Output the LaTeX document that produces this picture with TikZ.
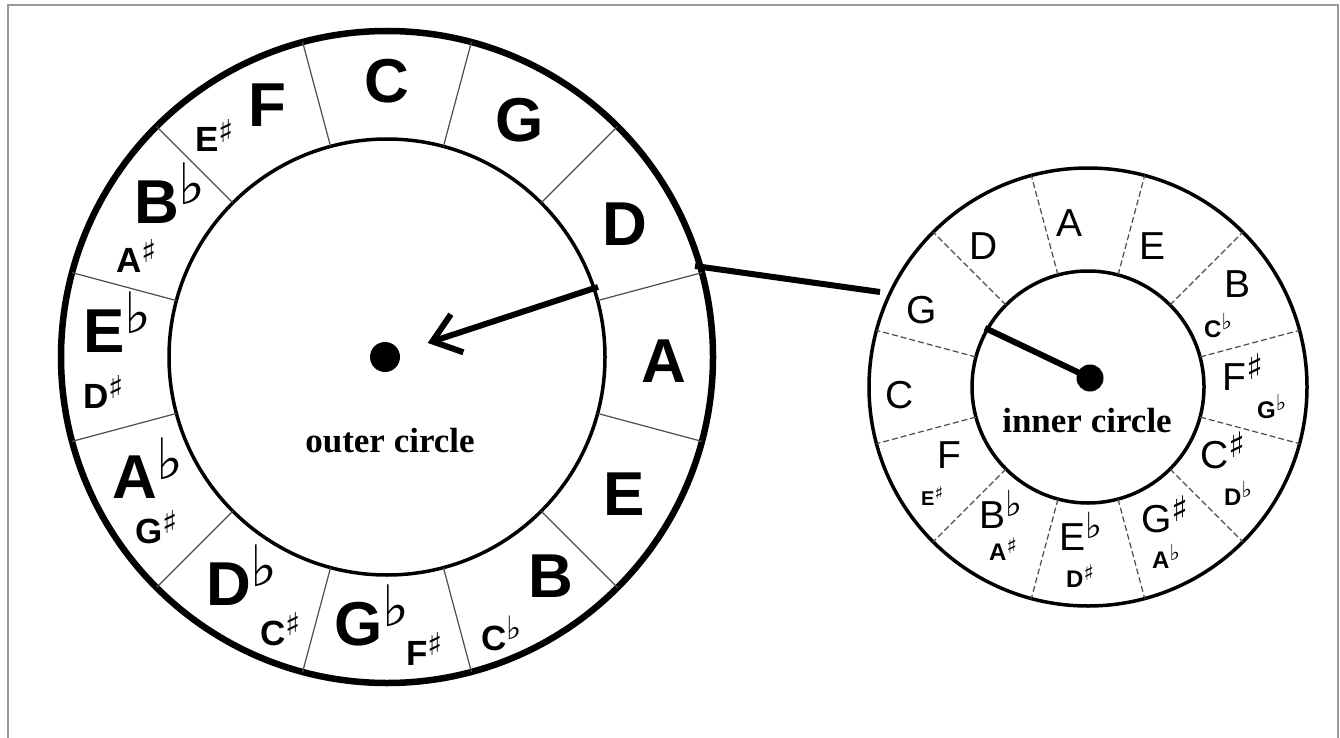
\documentclass[tikz,border=0pt]{standalone}
\usepackage{fontspec}
\setmainfont{Liberation Sans}
\newfontfamily\capfont{Liberation Serif}
\newfontfamily\accfont{DejaVu Sans}
\usetikzlibrary{arrows.meta}

% accidentals, raised after the letter
\newcommand\flt{\raisebox{0.3em}{\scalebox{0.92}{\accfont ♭}}}
\newcommand\shp{\raisebox{0.28em}{\scalebox{0.9}{\accfont ♯}}}

\begin{document}
\begin{tikzpicture}[
  x=1pt, y=-1pt,
  frame/.style={draw=gray!80, line width=1.5pt},
  ring/.style={line width=6.5pt},
  rim/.style={line width=3.5pt},
  spoke/.style={draw=gray!60!black, line width=1.2pt},
  dspoke/.style={spoke, dash pattern=on 6pt off 3pt},
  big/.style={anchor=base west, inner sep=0pt, font=\fontsize{62}{62}\selectfont\bfseries},
  mid/.style={anchor=base west, inner sep=0pt, font=\fontsize{35}{35}\selectfont\bfseries},
  sml/.style={anchor=base west, inner sep=0pt, font=\fontsize{39}{39}\selectfont},
  minor/.style={anchor=base west, inner sep=0pt, font=\fontsize{24}{24}\selectfont\bfseries},
  caption/.style={anchor=base, inner sep=0pt, font=\capfont\fontsize{35}{35}\selectfont\bfseries},
  hub/.style={circle, fill, inner sep=0pt, minimum size=30pt},
  pointer/.style={line width=6pt}
]
\useasboundingbox (0,0) rectangle (1340,738);
\draw[frame] (8,738) -- (8,5) -- (1338,5) -- (1338,738);

% outer circle
\coordinate (oc) at (387,357);
\draw[ring] (oc) circle[radius=326];
\draw[rim] (oc) circle[radius=218];
\foreach \a in {15,45,...,345}
  \draw[spoke] ([shift={(\a:218)}]oc) -- ([shift={(\a:326)}]oc);

\node[big] (c) at (364,103) {C};
\node[big] (g) at (495,142) {G};
\node[big] (d) at (602,245) {D};
\node[big] (a) at (641,382) {A};
\node[big] (e) at (603,515) {E};
\node[big] (b) at (528,597) {B};
\node[big] (gb) at (334,645) {G\flt};
\node[big] (db) at (206,605) {D\flt};
\node[big] (ab) at (112,498) {A\flt};
\node[big] (eb) at (83,352) {E\flt};
\node[big] (bb) at (134,223) {B\flt};
\node[big] (f) at (248,127) {F};

\node[mid] (cb) at (481,650) {C\flt};
\node[mid] (fs) at (406,665) {F\shp};
\node[mid] (cs) at (260,645) {C\shp};
\node[mid] (gs) at (135,543) {G\shp};
\node[mid] (ds) at (83,408) {D\shp};
\node[mid] (as) at (116,272) {A\shp};
\node[mid] (es) at (195,152) {E\shp};

\node[hub] (odot) at (385,357) {};
\node[caption] (olabel) at (390,452) {outer circle};

% inner circle
\coordinate (ic) at (1088,387);
\draw[rim] (ic) circle[radius=219];
\draw[rim] (ic) circle[radius=116];
\foreach \a in {15,45,...,345}
  \draw[dspoke] ([shift={(\a:116)}]ic) -- ([shift={(\a:219)}]ic);

\node[sml] (ia) at (1056,236) {A};
\node[sml] (ie) at (1139,259) {E};
\node[sml] (ib) at (1224,297) {B};
\node[sml] (ifs) at (1222,390) {F\shp};
\node[sml] (ics) at (1200,468) {C\shp};
\node[sml] (igs) at (1141,532) {G\shp};
\node[sml] (ieb) at (1059,550) {E\flt};
\node[sml] (ibb) at (979,528) {B\flt};
\node[sml] (if) at (937,468) {F};
\node[sml] (ic2) at (885,408) {C};
\node[sml] (ig) at (906,323) {G};
\node[sml] (id) at (969,259) {D};

\node[minor] (icb) at (1204,337) {C\flt};
\node[minor] (igb) at (1257,418) {G\flt};
\node[minor] (idb) at (1224,505) {D\flt};
\node[minor] (iab) at (1152,568) {A\flt};
\node[minor] (ids) at (1066,587) {D\shp};
\node[minor] (ias) at (989,560) {A\shp};
\node[minor, font=\fontsize{20}{20}\selectfont\bfseries] (ies) at (921,505) {E\shp};

\node[hub, minimum size=27pt] (idot) at (1090,378) {};
\node[caption] (ilabel) at (1087,432) {inner circle};

% pointer from the inner circle to the outer one
\coordinate (gin) at (985,328);
\coordinate (gout) at (880,292);
\coordinate (drim) at (695,266);
\coordinate (din) at (598,287);
\draw[pointer] (idot.center) -- (gin);
\draw[pointer] (gout) -- (drim);
\draw[pointer, -{Straight Barb[length=26pt, width=40pt]}, shorten >=45pt] (din) -- (odot.center);
\end{tikzpicture}
\end{document}
